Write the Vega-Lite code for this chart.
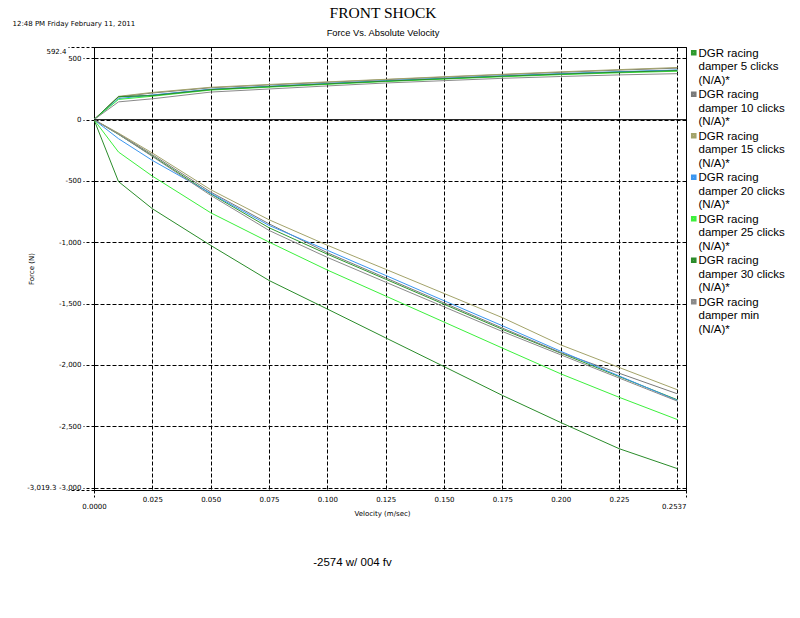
{
  "$schema": "https://vega.github.io/schema/vega-lite/v6.json",
  "width": 592,
  "height": 443,
  "autosize": "none",
  "padding": {"left": 94, "top": 47, "right": 114, "bottom": 128},
  "background": "white",
  "title": {
    "text": "FRONT SHOCK",
    "subtitle": "Force Vs. Absolute Velocity",
    "font": "Liberation Serif",
    "fontSize": 15.5,
    "fontWeight": "normal",
    "color": "black",
    "subtitleFont": "Liberation Sans",
    "subtitleFontSize": 9.3,
    "subtitleColor": "black",
    "anchor": "middle",
    "frame": "group",
    "dx": -7,
    "offset": -19,
    "subtitlePadding": 8
  },
  "config": {
    "view": {"stroke": "black", "strokeWidth": 1},
    "axis": {
      "labelFont": "DejaVu Sans",
      "labelFontSize": 7,
      "labelColor": "black",
      "titleFont": "DejaVu Sans",
      "titleFontSize": 7,
      "titleFontWeight": "normal",
      "titleColor": "black"
    }
  },
  "resolve": {"axis": {"x": "independent", "y": "independent"}},
  "layer": [
    {
      "data": {
        "values": [
          {"s": "DGR racing damper 5 clicks (N/A)*", "v": 0, "pos": 0, "neg": 0},
          {"s": "DGR racing damper 5 clicks (N/A)*", "v": 0.0105, "pos": 185, "neg": -120},
          {"s": "DGR racing damper 5 clicks (N/A)*", "v": 0.025, "pos": 199, "neg": -295},
          {"s": "DGR racing damper 5 clicks (N/A)*", "v": 0.05, "pos": 246, "neg": -605},
          {"s": "DGR racing damper 5 clicks (N/A)*", "v": 0.075, "pos": 270, "neg": -881},
          {"s": "DGR racing damper 5 clicks (N/A)*", "v": 0.1, "pos": 293, "neg": -1097},
          {"s": "DGR racing damper 5 clicks (N/A)*", "v": 0.125, "pos": 316, "neg": -1301},
          {"s": "DGR racing damper 5 clicks (N/A)*", "v": 0.15, "pos": 336, "neg": -1505},
          {"s": "DGR racing damper 5 clicks (N/A)*", "v": 0.175, "pos": 355, "neg": -1709},
          {"s": "DGR racing damper 5 clicks (N/A)*", "v": 0.2, "pos": 373, "neg": -1903},
          {"s": "DGR racing damper 5 clicks (N/A)*", "v": 0.225, "pos": 389, "neg": -2094},
          {"s": "DGR racing damper 5 clicks (N/A)*", "v": 0.25, "pos": 403, "neg": -2284},

          {"s": "DGR racing damper 10 clicks (N/A)*", "v": 0, "pos": 0, "neg": 0},
          {"s": "DGR racing damper 10 clicks (N/A)*", "v": 0.0105, "pos": 186, "neg": -115},
          {"s": "DGR racing damper 10 clicks (N/A)*", "v": 0.025, "pos": 217, "neg": -285},
          {"s": "DGR racing damper 10 clicks (N/A)*", "v": 0.05, "pos": 260, "neg": -590},
          {"s": "DGR racing damper 10 clicks (N/A)*", "v": 0.075, "pos": 283, "neg": -849},
          {"s": "DGR racing damper 10 clicks (N/A)*", "v": 0.1, "pos": 305, "neg": -1085},
          {"s": "DGR racing damper 10 clicks (N/A)*", "v": 0.125, "pos": 326, "neg": -1290},
          {"s": "DGR racing damper 10 clicks (N/A)*", "v": 0.15, "pos": 347, "neg": -1494},
          {"s": "DGR racing damper 10 clicks (N/A)*", "v": 0.175, "pos": 367, "neg": -1699},
          {"s": "DGR racing damper 10 clicks (N/A)*", "v": 0.2, "pos": 386, "neg": -1899},
          {"s": "DGR racing damper 10 clicks (N/A)*", "v": 0.225, "pos": 404, "neg": -2067},
          {"s": "DGR racing damper 10 clicks (N/A)*", "v": 0.25, "pos": 420, "neg": -2235},

          {"s": "DGR racing damper 15 clicks (N/A)*", "v": 0, "pos": 0, "neg": 0},
          {"s": "DGR racing damper 15 clicks (N/A)*", "v": 0.0105, "pos": 190, "neg": -110},
          {"s": "DGR racing damper 15 clicks (N/A)*", "v": 0.025, "pos": 222, "neg": -272},
          {"s": "DGR racing damper 15 clicks (N/A)*", "v": 0.05, "pos": 264, "neg": -571},
          {"s": "DGR racing damper 15 clicks (N/A)*", "v": 0.075, "pos": 287, "neg": -816},
          {"s": "DGR racing damper 15 clicks (N/A)*", "v": 0.1, "pos": 308, "neg": -1024},
          {"s": "DGR racing damper 15 clicks (N/A)*", "v": 0.125, "pos": 329, "neg": -1220},
          {"s": "DGR racing damper 15 clicks (N/A)*", "v": 0.15, "pos": 350, "neg": -1417},
          {"s": "DGR racing damper 15 clicks (N/A)*", "v": 0.175, "pos": 370, "neg": -1614},
          {"s": "DGR racing damper 15 clicks (N/A)*", "v": 0.2, "pos": 390, "neg": -1836},
          {"s": "DGR racing damper 15 clicks (N/A)*", "v": 0.225, "pos": 408, "neg": -2020},
          {"s": "DGR racing damper 15 clicks (N/A)*", "v": 0.25, "pos": 425, "neg": -2202},

          {"s": "DGR racing damper 20 clicks (N/A)*", "v": 0, "pos": 0, "neg": 0},
          {"s": "DGR racing damper 20 clicks (N/A)*", "v": 0.0105, "pos": 172, "neg": -155},
          {"s": "DGR racing damper 20 clicks (N/A)*", "v": 0.025, "pos": 201, "neg": -332},
          {"s": "DGR racing damper 20 clicks (N/A)*", "v": 0.05, "pos": 248, "neg": -600},
          {"s": "DGR racing damper 20 clicks (N/A)*", "v": 0.075, "pos": 272, "neg": -862},
          {"s": "DGR racing damper 20 clicks (N/A)*", "v": 0.1, "pos": 295, "neg": -1065},
          {"s": "DGR racing damper 20 clicks (N/A)*", "v": 0.125, "pos": 317, "neg": -1270},
          {"s": "DGR racing damper 20 clicks (N/A)*", "v": 0.15, "pos": 337, "neg": -1476},
          {"s": "DGR racing damper 20 clicks (N/A)*", "v": 0.175, "pos": 357, "neg": -1680},
          {"s": "DGR racing damper 20 clicks (N/A)*", "v": 0.2, "pos": 375, "neg": -1888},
          {"s": "DGR racing damper 20 clicks (N/A)*", "v": 0.225, "pos": 391, "neg": -2089},
          {"s": "DGR racing damper 20 clicks (N/A)*", "v": 0.25, "pos": 405, "neg": -2290},

          {"s": "DGR racing damper 25 clicks (N/A)*", "v": 0, "pos": 0, "neg": 0},
          {"s": "DGR racing damper 25 clicks (N/A)*", "v": 0.0105, "pos": 165, "neg": -264},
          {"s": "DGR racing damper 25 clicks (N/A)*", "v": 0.025, "pos": 191, "neg": -460},
          {"s": "DGR racing damper 25 clicks (N/A)*", "v": 0.05, "pos": 241, "neg": -759},
          {"s": "DGR racing damper 25 clicks (N/A)*", "v": 0.075, "pos": 265, "neg": -998},
          {"s": "DGR racing damper 25 clicks (N/A)*", "v": 0.1, "pos": 288, "neg": -1226},
          {"s": "DGR racing damper 25 clicks (N/A)*", "v": 0.125, "pos": 311, "neg": -1438},
          {"s": "DGR racing damper 25 clicks (N/A)*", "v": 0.15, "pos": 331, "neg": -1650},
          {"s": "DGR racing damper 25 clicks (N/A)*", "v": 0.175, "pos": 350, "neg": -1862},
          {"s": "DGR racing damper 25 clicks (N/A)*", "v": 0.2, "pos": 367, "neg": -2072},
          {"s": "DGR racing damper 25 clicks (N/A)*", "v": 0.225, "pos": 382, "neg": -2263},
          {"s": "DGR racing damper 25 clicks (N/A)*", "v": 0.25, "pos": 395, "neg": -2445},

          {"s": "DGR racing damper 30 clicks (N/A)*", "v": 0, "pos": 0, "neg": 0},
          {"s": "DGR racing damper 30 clicks (N/A)*", "v": 0.0105, "pos": 188, "neg": -505},
          {"s": "DGR racing damper 30 clicks (N/A)*", "v": 0.025, "pos": 196, "neg": -726},
          {"s": "DGR racing damper 30 clicks (N/A)*", "v": 0.05, "pos": 245, "neg": -1025},
          {"s": "DGR racing damper 30 clicks (N/A)*", "v": 0.075, "pos": 269, "neg": -1311},
          {"s": "DGR racing damper 30 clicks (N/A)*", "v": 0.1, "pos": 292, "neg": -1544},
          {"s": "DGR racing damper 30 clicks (N/A)*", "v": 0.125, "pos": 314, "neg": -1779},
          {"s": "DGR racing damper 30 clicks (N/A)*", "v": 0.15, "pos": 334, "neg": -2013},
          {"s": "DGR racing damper 30 clicks (N/A)*", "v": 0.175, "pos": 354, "neg": -2248},
          {"s": "DGR racing damper 30 clicks (N/A)*", "v": 0.2, "pos": 371, "neg": -2469},
          {"s": "DGR racing damper 30 clicks (N/A)*", "v": 0.225, "pos": 387, "neg": -2682},
          {"s": "DGR racing damper 30 clicks (N/A)*", "v": 0.25, "pos": 400, "neg": -2845},

          {"s": "DGR racing damper min (N/A)*", "v": 0, "pos": 0, "neg": 0},
          {"s": "DGR racing damper min (N/A)*", "v": 0.0105, "pos": 145, "neg": -118},
          {"s": "DGR racing damper min (N/A)*", "v": 0.025, "pos": 170, "neg": -300},
          {"s": "DGR racing damper min (N/A)*", "v": 0.05, "pos": 225, "neg": -617},
          {"s": "DGR racing damper min (N/A)*", "v": 0.075, "pos": 250, "neg": -903},
          {"s": "DGR racing damper min (N/A)*", "v": 0.1, "pos": 275, "neg": -1123},
          {"s": "DGR racing damper min (N/A)*", "v": 0.125, "pos": 299, "neg": -1325},
          {"s": "DGR racing damper min (N/A)*", "v": 0.15, "pos": 318, "neg": -1526},
          {"s": "DGR racing damper min (N/A)*", "v": 0.175, "pos": 337, "neg": -1727},
          {"s": "DGR racing damper min (N/A)*", "v": 0.2, "pos": 352, "neg": -1917},
          {"s": "DGR racing damper min (N/A)*", "v": 0.225, "pos": 365, "neg": -2106},
          {"s": "DGR racing damper min (N/A)*", "v": 0.25, "pos": 375, "neg": -2295}
        ]
      },
      "transform": [{"fold": ["pos", "neg"], "as": ["branch", "f"]}],
      "mark": {"type": "line", "strokeWidth": 1, "clip": true},
      "encoding": {
        "x": {
          "field": "v",
          "type": "quantitative",
          "scale": {"domain": [0, 0.2537], "nice": false, "zero": false},
          "axis": {
            "orient": "bottom",
            "values": [0, 0.025, 0.05, 0.075, 0.1, 0.125, 0.15, 0.175, 0.2, 0.225, 0.25, 0.2537],
            "title": "Velocity (m/sec)",
            "titleX": 288,
            "titleY": 23.5,
            "titleAlign": "center",
            "titleBaseline": "middle",
            "domain": false,
            "grid": true,
            "gridColor": "black",
            "gridDash": [4, 2],
            "gridOpacity": 1,
            "gridWidth": 1,
            "tickColor": "black",
            "tickDash": [3, 2],
            "tickSize": {"condition": {"test": "datum.value == 0 || datum.value > 0.252", "value": 7}, "value": 0},
            "labelPadding": 5,
            "labelAlign": {"condition": {"test": "datum.value > 0.252", "value": "right"}, "value": "center"},
            "labelExpr": "datum.value == 0 ? '0.0000' : (datum.value > 0.252 ? '0.2537' : (datum.value > 0.249 ? '' : format(datum.value, '.3f')))",
            "labelOverlap": false,
            "labelFlush": false,
            "labelBound": false
          }
        },
        "y": {
          "field": "f",
          "type": "quantitative",
          "scale": {"domain": [-3019.3, 592.4], "nice": false, "zero": false},
          "axis": {
            "orient": "left",
            "values": [592.4, 500, 0, -500, -1000, -1500, -2000, -2500, -3000, -3019.3],
            "title": "Force (N)",
            "titleX": -63,
            "titleY": 221.5,
            "titleAngle": -90,
            "titleAlign": "center",
            "titleBaseline": "middle",
            "domain": false,
            "grid": true,
            "gridColor": "black",
            "gridDash": [4, 2],
            "gridOpacity": 1,
            "gridWidth": 1,
            "tickColor": "black",
            "tickDash": [3, 2],
            "tickSize": {"condition": {"test": "datum.value % 500 != 0", "value": 26}, "value": 11},
            "labelPadding": {"condition": {"test": "datum.value < -3010", "value": 12}, "value": 2},
            "labelFlush": true,
            "labelOverlap": false,
            "labelBound": false,
            "labelExpr": "datum.value > 592 ? '592.4' : (datum.value < -3010 ? '-3,019.3' : (datum.value < 0 ? '-' : '') + format(abs(datum.value), ','))"
          }
        },
        "color": {
          "field": "s",
          "type": "nominal",
          "scale": {
            "domain": [
              "DGR racing damper 5 clicks (N/A)*",
              "DGR racing damper 10 clicks (N/A)*",
              "DGR racing damper 15 clicks (N/A)*",
              "DGR racing damper 20 clicks (N/A)*",
              "DGR racing damper 25 clicks (N/A)*",
              "DGR racing damper 30 clicks (N/A)*",
              "DGR racing damper min (N/A)*"
            ],
            "range": ["#2e9a2e", "#7a7a7a", "#a3a36a", "#3a96f0", "#3cf03c", "#2a8c2a", "#8a8a8a"]
          },
          "legend": {
            "title": null,
            "orient": "right",
            "offset": 2,
            "padding": 0,
            "symbolType": "square",
            "symbolSize": 9,
            "symbolStrokeWidth": 2.6,
            "labelFont": "Liberation Sans",
            "labelFontSize": 11.5,
            "labelColor": "black",
            "labelBaseline": "top",
            "labelOffset": -1,
            "labelLimit": 200,
            "rowPadding": 0.5,
            "labelExpr": "['DGR racing', slice(datum.label, 11, indexof(datum.label, ' (N/A)*')), '(N/A)*']",
            "encode": {"labels": {"update": {"dy": {"value": -5}}}}
          }
        },
        "detail": {"field": "branch"}
      }
    },
    {
      "data": {"values": [{}]},
      "mark": {"type": "rule", "color": "black", "strokeWidth": 1},
      "encoding": {
        "y": {
          "datum": 0,
          "type": "quantitative",
          "scale": {"domain": [-3019.3, 592.4], "nice": false, "zero": false},
          "axis": {
            "orient": "left",
            "title": "12:48 PM Friday February 11, 2011",
            "titleAngle": 0,
            "titleX": -82,
            "titleY": -23.7,
            "titleAlign": "left",
            "titleBaseline": "middle",
            "titleFont": "DejaVu Sans",
            "titleFontSize": 7,
            "labels": false,
            "ticks": false,
            "grid": false,
            "domain": false
          }
        },
        "x": {
          "datum": 0,
          "type": "quantitative",
          "scale": {"domain": [0, 0.2537], "nice": false, "zero": false},
          "axis": {
            "orient": "bottom",
            "title": "-2574 w/ 004 fv",
            "titleX": 258,
            "titleY": 72,
            "titleAlign": "center",
            "titleBaseline": "middle",
            "titleFont": "Liberation Sans",
            "titleFontSize": 11.5,
            "labels": false,
            "ticks": false,
            "grid": false,
            "domain": false
          }
        },
        "x2": {"datum": 0.2537}
      }
    }
  ]
}
